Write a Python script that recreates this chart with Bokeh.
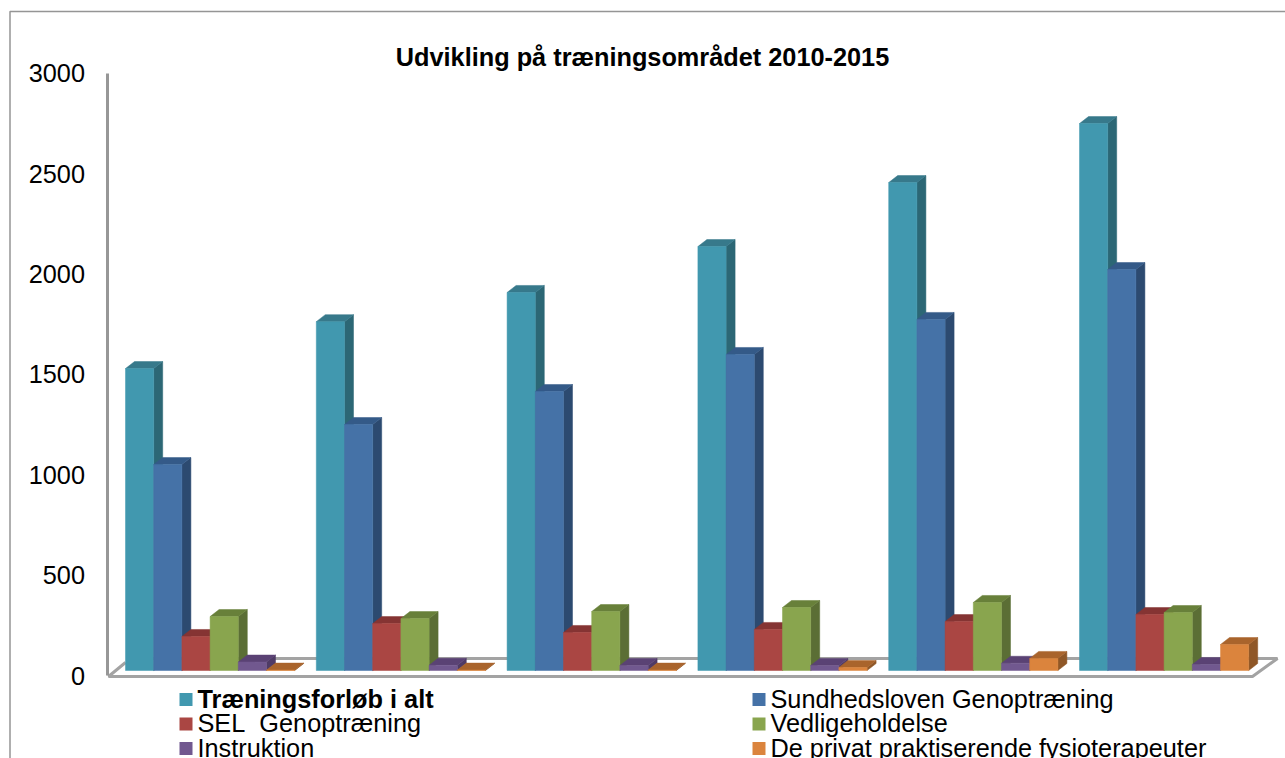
from bokeh.plotting import figure
from bokeh.models import Range1d, LinearAxis, FixedTicker, ColumnDataSource
from bokeh.core.properties import value
from bokeh.embed import file_html
from bokeh.resources import INLINE

title = "Udvikling på træningsområdet 2010-2015"
years = [2010, 2011, 2012, 2013, 2014, 2015]
series_names = ["Træningsforløb i alt", "Sundhedsloven Genoptræning", "SEL\u00a0 Genoptræning",
                "Vedligeholdelse", "Instruktion", "De privat praktiserende fysioterapeuter"]
traeningsforloeb = [1500, 1733, 1878, 2106, 2424, 2717]
sundhedsloven = [1023, 1222, 1386, 1570, 1744, 1992]
sel = [169, 233, 189, 204, 243, 278]
vedligeholdelse = [268, 258, 293, 313, 338, 288]
instruktion = [42, 26, 25, 25, 36, 30]
privat = [2, 2, 2, 15, 60, 129]
y_ticks = [0, 500, 1000, 1500, 2000, 2500, 3000]

series = [traeningsforloeb, sundhedsloven, sel, vedligeholdelse, instruktion, privat]
front = ["#4198AF", "#4572A7", "#AA4643", "#89A54E", "#71588F", "#DB843D"]
side = ["#2C6775", "#2C4A70", "#7D3230", "#5B6E35", "#4F3B66", "#8F5727"]
top = ["#37798B", "#345A88", "#853433", "#68803A", "#5A4274", "#A9642C"]

W, H = 1285, 758
GROUP_PX, LEFT_PX, BASE_PX, UNIT_PX = 190.8, 125.0, 670.0, 0.2013
X0, Y0 = 0, 0  # the figure starts at the corner of the picture


def gx(px):
    return (px - LEFT_PX) / GROUP_PX


def vy(py):
    return (BASE_PX - py) / UNIT_PX


p = figure(width=W, height=H, output_backend="svg", toolbar_location=None, min_border=0,
           x_range=Range1d(gx(X0), gx(X0 + W)), y_range=Range1d(vy(Y0 + H), vy(Y0)),
           x_axis_type=None, y_axis_type=None)
p.outline_line_color = None
p.grid.visible = False
p.background_fill_color = "white"
p.border_fill_color = "white"

# outer chart frame
p.line([gx(9.5), gx(9.5), gx(X0 + W)], [vy(Y0 + H), vy(11), vy(11)], line_color="#959595", line_width=1.5)

# floor
p.line([gx(125), gx(108), gx(1252), gx(1277), gx(133)],
       [vy(662), vy(676), vy(676), vy(658), vy(658)], line_color="#A3A3A3", line_width=3)

# value axis on the front plane
AX0, AXS = 675.0, 0.2008
p.extra_y_ranges["axis"] = Range1d((AX0 - (Y0 + H)) / AXS, (AX0 - Y0) / AXS)
axis = LinearAxis(y_range_name="axis", fixed_location=gx(106.5), ticker=FixedTicker(ticks=y_ticks),
                  bounds=(0, 3000))
axis.major_tick_line_color = None
axis.minor_tick_line_color = None
axis.axis_line_color = "#979797"
axis.axis_line_width = 3
axis.major_label_text_font = "Liberation Sans"
axis.major_label_text_font_size = "25.3px"
axis.major_label_text_color = "#000000"
axis.major_label_standoff = 16
p.add_layout(axis, "left")

# 3-D bars: each bar is a side, a top and a front face, drawn left to right
BAR = 28.2 / GROUP_PX
DX, DY = 9.0 / GROUP_PX, 7.0 / UNIT_PX
xs, ys, colors = [], [], []
for g in range(len(years)):
    for s, vals in enumerate(series):
        v = vals[g]
        l, r = g + s * BAR, g + (s + 1) * BAR
        xs.append([r, r + DX, r + DX, r]); ys.append([0, DY, v + DY, v]); colors.append(side[s])
        xs.append([l, r, r + DX, l + DX]); ys.append([v, v, v + DY, v + DY]); colors.append(top[s])
        xs.append([l, r, r, l]); ys.append([0, 0, v, v]); colors.append(front[s])
p.patches(xs="xs", ys="ys", fill_color="color", line_color="color", line_width=0.5,
          source=ColumnDataSource(dict(xs=xs, ys=ys, color=colors)))

# title
p.text([gx(642)], [vy(56)], text=[title], text_font=value("Liberation Sans"), text_font_style="bold",
       text_font_size="25.3px", text_color="#000000", text_align="center", text_baseline="middle")

# legend, two columns and three rows, first entry bold
col_px = [179, 752]
row_px = [699, 723.5, 748]
TEXT_UP = 1.0
for i, name in enumerate(series_names):
    cx, cy = col_px[i % 2], row_px[i // 2]
    p.quad(left=[gx(cx)], right=[gx(cx + 13)], bottom=[vy(cy + 6.5)], top=[vy(cy - 6.5)],
           fill_color=front[i], line_color=None)
    p.text([gx(cx + 18)], [vy(cy - TEXT_UP)], text=[name], text_font=value("Liberation Sans"),
           text_font_style="bold" if i == 0 else "normal", text_font_size="25.3px",
           text_color="#000000", text_align="left", text_baseline="middle")

open("out.html", "w").write(file_html(p, INLINE))
